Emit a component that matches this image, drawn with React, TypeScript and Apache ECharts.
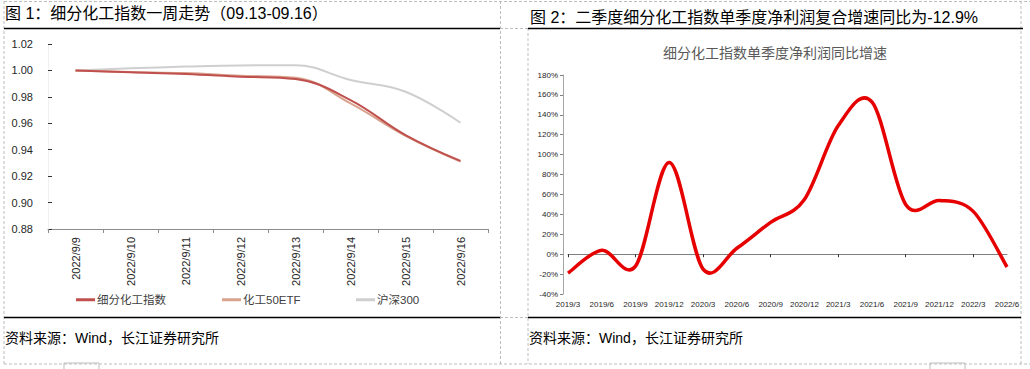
import React, { useEffect, useRef } from "react";
import * as echarts from "echarts";

// ---- Figure 1 data ----
const weekDates = ["2022/9/9", "2022/9/10", "2022/9/11", "2022/9/12", "2022/9/13", "2022/9/14", "2022/9/15", "2022/9/16"];
const chemIndex = [1.0, 0.9986, 0.9973, 0.9953, 0.9935, 0.9776, 0.9511, 0.9315];
const chemETF = [1.0, 0.9988, 0.998, 0.996, 0.9945, 0.975, 0.9505, 0.931];
const hs300 = [1.0, 1.0016, 1.0029, 1.0038, 1.0039, 0.9928, 0.9839, 0.9604];
const seriesNames = ["细分化工指数", "化工50ETF", "沪深300"];

// ---- Figure 2 data ----
const quarters = ["2019/3", "2019/6", "2019/9", "2019/12", "2020/3", "2020/6", "2020/9", "2020/12", "2021/3", "2021/6", "2021/9", "2021/12", "2022/3", "2022/6"];
const profitGrowth = [-19, 4, -12, 92, -15, 6, 32, 55, 129, 153, 50, 54, 43, -12.9];

const title1 = "图 1：细分化工指数一周走势（09.13-09.16）";
const title2 = "图 2：二季度细分化工指数单季度净利润复合增速同比为-12.9%";
const subTitle2 = "细分化工指数单季度净利润同比增速";
const sourceText = "资料来源：Wind，长江证券研究所";

const FONT = "'Liberation Sans', Arial, 'Noto Sans CJK SC', sans-serif";

// Excel-like (Catmull-Rom) smoothed line through the data, positioned by the axes
function renderSmoothLine(params: any, api: any) {
  if (params.dataIndex !== 0) return null;
  const pts = profitGrowth.map((v, i) => api.coord([i, v]));
  let d = `M${pts[0][0]},${pts[0][1]}`;
  for (let i = 0; i < pts.length - 1; i++) {
    const p0 = pts[i - 1] || pts[i];
    const p1 = pts[i];
    const p2 = pts[i + 1];
    const p3 = pts[i + 2] || pts[i + 1];
    const c1x = p1[0] + (p2[0] - p0[0]) / 6;
    const c1y = p1[1] + (p2[1] - p0[1]) / 6;
    const c2x = p2[0] - (p3[0] - p1[0]) / 6;
    const c2y = p2[1] - (p3[1] - p1[1]) / 6;
    d += ` C${c1x},${c1y} ${c2x},${c2y} ${p2[0]},${p2[1]}`;
  }
  return {
    type: "path",
    shape: { pathData: d },
    style: { fill: "none", stroke: "#E60000", lineWidth: 3.5, lineJoin: "round", lineCap: "butt" },
  };
}

export default function App() {
  const ref = useRef<HTMLDivElement>(null);
  useEffect(() => {
    document.body.style.margin = "0";
    const chart = echarts.init(ref.current!, null, { renderer: "svg" });
    const dash = { stroke: "#bdbdbd", lineWidth: 1, lineDash: [3, 2] };
    const black = { stroke: "#000", lineWidth: 1.5 };
    const option: any = {
      animation: false,
      textStyle: { fontFamily: FONT },
      grid: [
        { left: 48, right: 542, top: 44, bottom: 140 },
        { left: 568, right: 23, top: 75, bottom: 75 },
      ],
      legend: seriesNames.map((n, i) => ({
        data: [n],
        left: [76, 222, 356][i],
        top: 294,
        icon: "rect",
        itemWidth: 19,
        itemHeight: 3,
        padding: 0,
        textStyle: { fontSize: 11.5, color: "#404040", padding: [0, 0, 0, -3] },
      })),
      xAxis: [
        {
          gridIndex: 0,
          type: "category",
          data: weekDates,
          boundaryGap: true,
          axisLine: { lineStyle: { color: "#8c8c8c" } },
          axisTick: { show: true, length: 4, lineStyle: { color: "#8c8c8c" } },
          axisLabel: { rotate: 90, fontSize: 11, color: "#262626", margin: 8 },
        },
        {
          gridIndex: 1,
          type: "category",
          data: quarters,
          boundaryGap: false,
          axisLine: { show: false, onZero: false },
          axisTick: { show: false },
          axisLabel: { fontSize: 8, color: "#262626", margin: 6, interval: 0 },
        },
        {
          gridIndex: 1,
          type: "category",
          data: quarters,
          boundaryGap: false,
          axisLine: { show: true, onZero: true, lineStyle: { color: "#7f7f7f" } },
          axisTick: { show: true, length: 3, inside: true, lineStyle: { color: "#333" } },
          axisLabel: { show: false },
        },
      ],
      yAxis: [
        {
          gridIndex: 0,
          type: "value",
          min: 0.88,
          max: 1.02,
          interval: 0.02,
          splitLine: { show: false },
          axisLine: { show: true, lineStyle: { color: "#f0f0f0" } },
          axisTick: { show: true, inside: true, length: 4, lineStyle: { color: "#333" } },
          axisLabel: { fontSize: 11, color: "#262626", margin: 15, formatter: (v: number) => v.toFixed(2) },
        },
        {
          gridIndex: 1,
          type: "value",
          min: -40,
          max: 180,
          interval: 20,
          offset: 5,
          splitLine: { show: false },
          axisLine: { show: true, lineStyle: { color: "#a6a6a6" } },
          axisTick: { show: true, length: 3, lineStyle: { color: "#7f7f7f" } },
          axisLabel: { fontSize: 8, color: "#262626", margin: 5, formatter: (v: number) => `${v}%` },
        },
      ],
      series: [
        { name: seriesNames[0], type: "line", xAxisIndex: 0, yAxisIndex: 0, data: chemIndex, smooth: 0.4, showSymbol: false, color: "#C0504D", lineStyle: { width: 2 }, z: 4 },
        { name: seriesNames[1], type: "line", xAxisIndex: 0, yAxisIndex: 0, data: chemETF, smooth: 0.4, showSymbol: false, color: "#D9A38E", lineStyle: { width: 2 }, z: 3 },
        { name: seriesNames[2], type: "line", xAxisIndex: 0, yAxisIndex: 0, data: hs300, smooth: 0.4, showSymbol: false, color: "#CFCFCF", lineStyle: { width: 2 }, z: 2 },
        {
          name: "净利润同比增速",
          type: "custom",
          xAxisIndex: 1,
          yAxisIndex: 1,
          data: profitGrowth.map((v, i) => [i, v]),
          renderItem: renderSmoothLine,
          clip: false,
          z: 5,
        },
      ],
      graphic: [
        { type: "line", shape: { x1: 4, y1: 1.5, x2: 1030, y2: 1.5 }, style: dash, silent: true },
        { type: "line", shape: { x1: 4, y1: 1, x2: 4, y2: 364 }, style: dash, silent: true },
        { type: "line", shape: { x1: 500.5, y1: 1, x2: 500.5, y2: 364 }, style: dash, silent: true },
        { type: "line", shape: { x1: 528, y1: 28, x2: 528, y2: 364 }, style: dash, silent: true },
        { type: "line", shape: { x1: 1021, y1: 1, x2: 1021, y2: 364 }, style: dash, silent: true },
        { type: "line", shape: { x1: 500, y1: 28.5, x2: 528, y2: 28.5 }, style: dash, silent: true },
        { type: "line", shape: { x1: 500, y1: 317.5, x2: 528, y2: 317.5 }, style: dash, silent: true },
        { type: "line", shape: { x1: 4, y1: 364, x2: 1030, y2: 364 }, style: dash, silent: true },
        { type: "rect", shape: { x: 64, y: 363, width: 35, height: 8 }, style: { fill: "none", stroke: "#bdbdbd", lineWidth: 1 }, silent: true },
        { type: "rect", shape: { x: 930, y: 363, width: 35, height: 8 }, style: { fill: "none", stroke: "#bdbdbd", lineWidth: 1 }, silent: true },
        { type: "text", left: 5, top: 5, style: { text: title1, font: `16px ${FONT}`, fill: "#000" } },
        { type: "text", left: 530, top: 9, style: { text: title2, font: `16px ${FONT}`, fill: "#000" } },
        { type: "line", shape: { x1: 4, y1: 28.5, x2: 500, y2: 28.5 }, style: black, silent: true },
        { type: "line", shape: { x1: 528, y1: 28.5, x2: 1023, y2: 28.5 }, style: black, silent: true },
        { type: "text", x: 775, y: 53, style: { text: subTitle2, font: `14px ${FONT}`, fill: "#595959", align: "center", verticalAlign: "middle" } },
        { type: "line", shape: { x1: 4, y1: 317.5, x2: 500, y2: 317.5 }, style: black, silent: true },
        { type: "line", shape: { x1: 528, y1: 317.5, x2: 1021, y2: 317.5 }, style: black, silent: true },
        { type: "text", x: 5, y: 338, style: { text: sourceText, font: `14px ${FONT}`, fill: "#000", verticalAlign: "middle" } },
        { type: "text", x: 529, y: 338, style: { text: sourceText, font: `14px ${FONT}`, fill: "#000", verticalAlign: "middle" } },
      ],
    };
    chart.setOption(option);
    return () => chart.dispose();
  }, []);
  return <div ref={ref} style={{ position: "absolute", left: 0, top: 0, width: 1030, height: 369, background: "#fff" }} />;
}
